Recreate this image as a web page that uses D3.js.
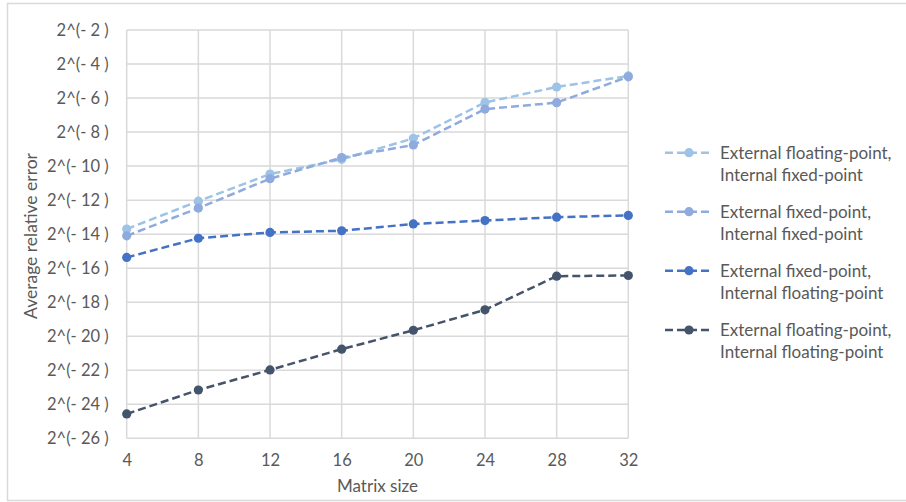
<!DOCTYPE html>
<html>
<head>
<meta charset="utf-8">
<script src="https://cdn.jsdelivr.net/npm/d3@7"></script>
<style>
  html, body { margin: 0; padding: 0; background: #fff; }
  svg { display: block; }
  text { font-family: Lato, "Open Sans", sans-serif; fill: #595959; }
</style>
</head>
<body>
<svg id="chart" width="906" height="502"></svg>
<script>
// Matrix sizes on the x axis
const matrixSizes = [4, 8, 12, 16, 20, 24, 28, 32];

// Average relative error, as base-2 exponents
const extFloatIntFixed = [-13.7, -12.06, -10.47, -9.6, -8.37, -6.26, -5.35, -4.7];
const extFixedIntFixed = [-14.1, -12.47, -10.74, -9.5, -8.76, -6.65, -6.27, -4.75];
const extFixedIntFloat = [-15.37, -14.24, -13.9, -13.8, -13.4, -13.2, -13.0, -12.9];
const extFloatIntFloat = [-24.57, -23.16, -21.98, -20.76, -19.65, -18.45, -16.47, -16.43];

const seriesNames = [
  ["External floating-point,", "Internal fixed-point"],
  ["External fixed-point,", "Internal fixed-point"],
  ["External fixed-point,", "Internal floating-point"],
  ["External floating-point,", "Internal floating-point"]
];
const seriesColors = ["#9dc3e6", "#8faadc", "#4472c4", "#44546a"];

// Y tick exponents
const yTicks = [-2, -4, -6, -8, -10, -12, -14, -16, -18, -20, -22, -24, -26];

const seriesValues = [extFloatIntFixed, extFixedIntFixed, extFixedIntFloat, extFloatIntFloat];
const series = seriesValues.map((vals, i) => ({
  name: seriesNames[i],
  color: seriesColors[i],
  points: matrixSizes.map((m, j) => ({ x: m, y: vals[j] }))
}));

const svg = d3.select("#chart");
const FONT = "Lato, 'Open Sans', sans-serif";

// Outer chart frame
svg.append("rect")
  .attr("x", 7.5).attr("y", 3.5)
  .attr("width", 910).attr("height", 497)
  .attr("fill", "none").attr("stroke", "#d9d9d9").attr("stroke-width", 1.5);

const plot = { left: 126.7, right: 628.3, top: 30, bottom: 438.3 };

const x = d3.scaleLinear().domain([4, 32]).range([plot.left, plot.right]);
const y = d3.scaleLinear().domain([-26, -2]).range([plot.bottom, plot.top]);

// Gridlines
const grid = svg.append("g").attr("stroke", "#d9d9d9").attr("stroke-width", 1.5);
grid.selectAll("line.h").data(yTicks).join("line")
  .attr("class", "h")
  .attr("x1", plot.left).attr("x2", plot.right)
  .attr("y1", d => y(d)).attr("y2", d => y(d));
grid.selectAll("line.v").data(matrixSizes).join("line")
  .attr("class", "v")
  .attr("x1", d => x(d)).attr("x2", d => x(d))
  .attr("y1", plot.top).attr("y2", plot.bottom);

// Y axis labels
const yAxis = d3.axisLeft(y).tickValues(yTicks).tickSize(0).tickPadding(18)
  .tickFormat(d => "2^(- " + (-d) + " )");
const gy = svg.append("g").attr("transform", `translate(${plot.left},0)`).call(yAxis);
gy.select(".domain").remove();
gy.selectAll("text").attr("font-size", 16.5).attr("fill", "#595959")
  .style("font-family", FONT);

// X axis labels
const xAxis = d3.axisBottom(x).tickValues(matrixSizes).tickSize(0).tickPadding(16)
  .tickFormat(d3.format("d"));
const gx = svg.append("g").attr("transform", `translate(0,${plot.bottom})`).call(xAxis);
gx.select(".domain").remove();
gx.selectAll("text").attr("font-size", 16.5).attr("fill", "#595959")
  .style("font-family", FONT);

// Axis titles
svg.append("text")
  .attr("x", x(18)).attr("y", 492)
  .attr("text-anchor", "middle").attr("font-size", 17)
  .text("Matrix size");
svg.append("text")
  .attr("transform", "translate(37,236) rotate(-90)")
  .attr("text-anchor", "middle").attr("font-size", 17.5)
  .text("Average relative error");

// Series lines and markers
const line = d3.line().x(d => x(d.x)).y(d => y(d.y));
const sg = svg.append("g").selectAll("g").data(series).join("g");
sg.append("path")
  .attr("d", d => line(d.points))
  .attr("fill", "none")
  .attr("stroke", d => d.color)
  .attr("stroke-width", 2.5)
  .attr("stroke-dasharray", "8,4");
sg.selectAll("circle").data(d => d.points.map(p => ({ ...p, color: d.color }))).join("circle")
  .attr("cx", d => x(d.x)).attr("cy", d => y(d.y))
  .attr("r", 4.6).attr("fill", d => d.color);

// Legend
const legendRows = [152.7, 211.7, 270.7, 330];
const lg = svg.append("g").selectAll("g").data(series).join("g")
  .attr("transform", (d, i) => `translate(0,${legendRows[i]})`);
lg.append("line")
  .attr("x1", 665).attr("x2", 711).attr("y1", 0).attr("y2", 0)
  .attr("stroke", d => d.color).attr("stroke-width", 2.5)
  .attr("stroke-dasharray", "8,4");
lg.append("circle").attr("cx", 689).attr("cy", 0).attr("r", 4.6)
  .attr("fill", d => d.color);
lg.append("text")
  .attr("x", 720).attr("y", 0)
  .attr("font-size", 17)
  .selectAll("tspan").data(d => d.name).join("tspan")
  .attr("x", 720)
  .attr("dy", (d, i) => i === 0 ? "0.35em" : "22.5")
  .text(d => d);
</script>
</body>
</html>
